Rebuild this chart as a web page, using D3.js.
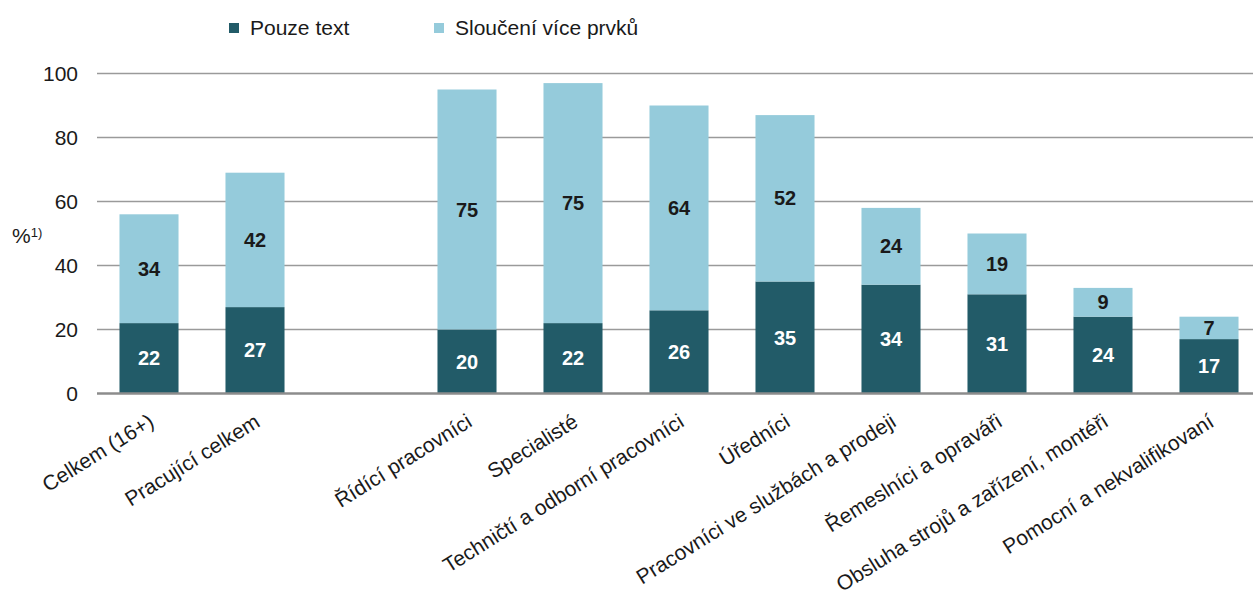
<!DOCTYPE html>
<html>
<head>
<meta charset="utf-8">
<script src="https://cdn.jsdelivr.net/npm/d3@7"></script>
<style>
  body { margin: 0; background: #fff; }
  text { font-family: "Liberation Sans", Arial, sans-serif; fill: #1a1a1a; }
</style>
</head>
<body>
<svg id="chart"></svg>
<script>
// data ("" = empty gap slot)
var categories = ["Celkem (16+)", "Pracující celkem", "", "Řídící pracovníci", "Specialisté",
  "Techničtí a odborní pracovníci", "Úředníci", "Pracovníci ve službách a prodeji",
  "Řemeslníci a opraváři", "Obsluha strojů a zařízení, montéři", "Pomocní a nekvalifikovaní"];
var pouzeText = [22, 27, null, 20, 22, 26, 35, 34, 31, 24, 17];
var slouceni = [34, 42, null, 75, 75, 64, 52, 24, 19, 9, 7];
var seriesNames = ["Pouze text", "Sloučení více prvků"];
var yTicks = [0, 20, 40, 60, 80, 100];

var colors = ["#225b68", "#95cbdb"];
var svgWidth = 1253, svgHeight = 595;

var svg = d3.select("#chart")
    .attr("width", svgWidth)
    .attr("height", svgHeight);

var x = d3.scaleBand()
    .domain(d3.range(categories.length))
    .range([96, 96 + 106 * categories.length])
    .paddingInner(0.443)
    .paddingOuter(0.2215);

var y = d3.scaleLinear()
    .domain([0, 100])
    .range([393.5, 73.5]);

// gridlines
svg.append("g")
    .selectAll("line")
    .data(yTicks.filter(function(d){ return d > 0; }))
    .enter()
    .append("line")
    .attr("x1", 97)
    .attr("x2", svgWidth)
    .attr("y1", function(d){ return y(d); })
    .attr("y2", function(d){ return y(d); })
    .attr("stroke", "#9a9a9a")
    .attr("stroke-width", 1.3);

// y axis labels
var yAxis = d3.axisLeft(y).tickValues(yTicks).tickSize(0).tickPadding(0);
svg.append("g")
    .attr("transform", "translate(78,0)")
    .call(yAxis)
    .call(function(g){
        g.select(".domain").remove();
        g.selectAll("text")
            .attr("font-size", 21)
            .attr("font-family", "Liberation Sans, Arial, sans-serif")
            .attr("fill", "#1a1a1a");
    });

// unit label
var unit = svg.append("text").attr("x", 12).attr("y", 243).attr("font-size", 21);
unit.append("tspan").text("%");
unit.append("tspan").attr("font-size", 13).attr("dy", -6).text("1)");

// stacked bars
var rows = categories.map(function(c, i){
    return { i: i, a: pouzeText[i], b: slouceni[i] };
}).filter(function(d){ return d.a != null; });

var bw = x.bandwidth();

svg.append("g").selectAll("rect")
    .data(rows)
    .enter()
    .append("rect")
    .attr("x", function(d){ return x(d.i); })
    .attr("width", bw)
    .attr("y", function(d){ return y(d.a); })
    .attr("height", function(d){ return y(0) - y(d.a); })
    .attr("fill", colors[0]);

svg.append("g").selectAll("rect")
    .data(rows)
    .enter()
    .append("rect")
    .attr("x", function(d){ return x(d.i); })
    .attr("width", bw)
    .attr("y", function(d){ return y(d.a + d.b); })
    .attr("height", function(d){ return y(d.a) - y(d.a + d.b); })
    .attr("fill", colors[1]);

// value labels
svg.append("g").selectAll("text")
    .data(rows)
    .enter()
    .append("text")
    .attr("x", function(d){ return x(d.i) + bw / 2; })
    .attr("y", function(d){ return y(d.a / 2) + 7; })
    .attr("text-anchor", "middle")
    .attr("font-size", 20)
    .attr("font-weight", "bold")
    .style("fill", "#fff")
    .text(function(d){ return d.a; });

svg.append("g").selectAll("text")
    .data(rows)
    .enter()
    .append("text")
    .attr("x", function(d){ return x(d.i) + bw / 2; })
    .attr("y", function(d){ return y(d.a + d.b / 2) + 7; })
    .attr("text-anchor", "middle")
    .attr("font-size", 20)
    .attr("font-weight", "bold")
    .style("fill", "#1a1a1a")
    .text(function(d){ return d.b; });

// zero axis line
svg.append("line")
    .attr("x1", 97)
    .attr("x2", svgWidth)
    .attr("y1", y(0))
    .attr("y2", y(0))
    .attr("stroke", "#8c8c8c")
    .attr("stroke-width", 2.5);

// category labels, rotated
svg.append("g").selectAll("text")
    .data(rows)
    .enter()
    .append("text")
    .attr("transform", function(d){
        return "translate(" + (x(d.i) + bw / 2 - 2) + ",412) rotate(-32)";
    })
    .attr("text-anchor", "end")
    .attr("dy", "0.75em")
    .attr("font-size", 21)
    .text(function(d){ return categories[d.i]; });

// legend
var legend = svg.append("g").selectAll("g")
    .data(seriesNames)
    .enter()
    .append("g")
    .attr("transform", function(d, i){ return "translate(" + [229 + i * 205, 23] + ")"; });

legend.append("rect")
    .attr("width", 10)
    .attr("height", 10)
    .attr("fill", function(d, i){ return colors[i]; });

legend.append("text")
    .attr("x", 21)
    .attr("y", 12)
    .attr("font-size", 21)
    .text(function(d){ return d; });
</script>
</body>
</html>
